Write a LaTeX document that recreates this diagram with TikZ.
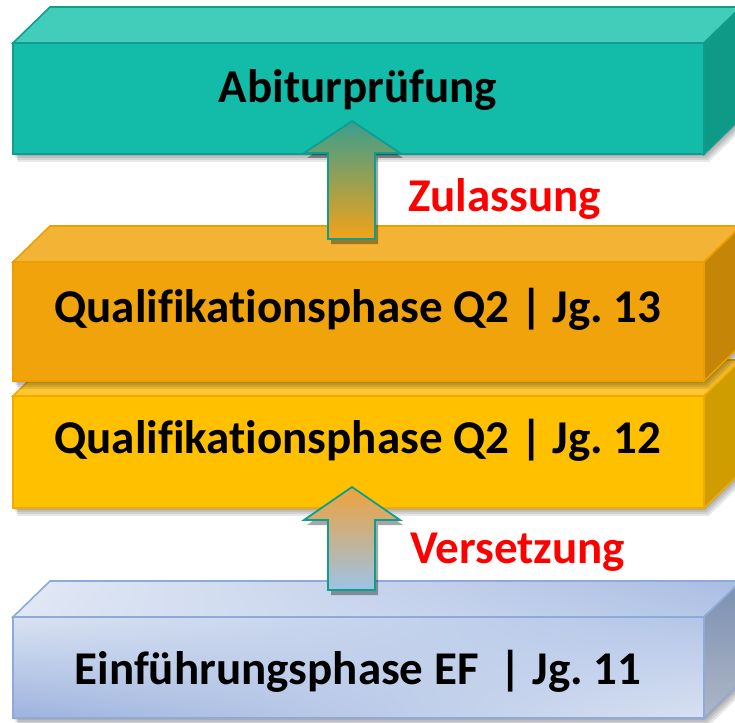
\documentclass[tikz,border=0pt]{standalone}
\usepackage{fontspec}
\usetikzlibrary{shadings}
\setmainfont{Carlito}[Ligatures=NoCommon]
\frenchspacing
\definecolor{tealF}{HTML}{12BCA8}
\definecolor{tealT}{HTML}{42CDBA}
\definecolor{tealS}{HTML}{0F9A88}
\definecolor{tealL}{HTML}{0F9E8E}
\definecolor{oraF}{HTML}{F1A30B}
\definecolor{oraT}{HTML}{F3B436}
\definecolor{oraS}{HTML}{C58608}
\definecolor{oraL}{HTML}{EE9F00}
\definecolor{yelF}{HTML}{FFC000}
\definecolor{yelT}{HTML}{FFC832}
\definecolor{yelS}{HTML}{CF9D00}
\definecolor{yelL}{HTML}{F2A900}
\definecolor{bluL}{HTML}{8EAADB}
\definecolor{bluUL}{HTML}{D9E2F2}
\definecolor{bluLL}{HTML}{9DB3DE}
\definecolor{bluUR}{HTML}{B3C5E7}
\definecolor{bluLR}{HTML}{D8E1F2}
\definecolor{bluTL}{HTML}{E2E9F5}
\definecolor{bluTR}{HTML}{A9BCE3}
\definecolor{bluTLL}{HTML}{DFE6F4}
\definecolor{bluTLR}{HTML}{B4C6E7}
\definecolor{bluS1}{HTML}{7B90B3}
\definecolor{bluS2}{HTML}{AEB6C5}
\definecolor{arrT1}{HTML}{3A9E8E}
\definecolor{arrM1}{HTML}{B8A468}
\definecolor{arrB1}{HTML}{F3A218}
\definecolor{arrT2}{HTML}{EEA23C}
\definecolor{arrM2}{HTML}{C9B5B2}
\definecolor{arrB2}{HTML}{9CC3E6}
\definecolor{redtxt}{HTML}{FF0000}
\tikzset{
  boxline/.style={line width=1.6pt, line join=miter},
  boxtext/.style={font=\fontsize{47}{52}\selectfont\bfseries, text=black, inner sep=0pt, anchor=base},
  redlabel/.style={font=\fontsize{47}{52}\selectfont\bfseries, text=redtxt, inner sep=0pt, anchor=base west},
  arrowline/.style={draw=tealL, line width=1.8pt, line join=miter},
}
% silhouette of a cuboid: x1 y1 x2 y2
\newcommand\cubsil[4]{(#1,#2) -- (#1+37,#2-36) -- (#3+37,#2-36) -- (#3+37,#4-36) -- (#3,#4) -- (#1,#4) -- cycle}
\newcommand\cubshadow[4]{%
  \foreach \o in {2,4,6,8}{\fill[black,opacity=0.09,xshift=0.6*\o pt,yshift=-\o pt] \cubsil{#1}{#2}{#3}{#4};}%
}
% x1 y1 x2 y2 front top side line
\newcommand\cuboid[8]{%
  \cubshadow{#1}{#2}{#3}{#4}%
  \filldraw[fill=#5,draw=#8,boxline] (#1,#2) rectangle (#3,#4);
  \filldraw[fill=#6,draw=#8,boxline] (#1,#2) -- (#1+37,#2-36) -- (#3+37,#2-36) -- (#3,#2) -- cycle;
  \filldraw[fill=#7,draw=#8,boxline] (#3,#2) -- (#3+37,#2-36) -- (#3+37,#4-36) -- (#3,#4) -- cycle;
}
% up arrow: tip y, head base y, bottom y
\newcommand\uparr[3]{(352,#1) -- (400,#2) -- (375,#2) -- (375,#3) -- (328,#3) -- (328,#2) -- (304,#2) -- cycle}
\begin{document}
\begin{tikzpicture}[x=1pt,y=-1pt]
\useasboundingbox (0,0) rectangle (735,722);
\clip (0,0) rectangle (735,722);
\fill[white] (0,0) rectangle (735,722);

% ---- EF box (bottom) ----
\cubshadow{13}{617}{704}{718}
\shade[upper left=bluUL, upper right=bluUR, lower left=bluLL, lower right=bluLR] (13,617) rectangle (704,718);
\draw[draw=bluL,boxline] (13,617) rectangle (704,718);
\shade[upper left=bluTL, upper right=bluTR, lower left=bluTLL, lower right=bluTLR] (13,617) -- (50,581) -- (741,581) -- (704,617) -- cycle;
\draw[draw=bluL,boxline] (13,617) -- (50,581) -- (741,581) -- (704,617) -- cycle;
\shade[top color=bluS1, bottom color=bluS2] (704,617) -- (741,581) -- (741,682) -- (704,718) -- cycle;
\draw[draw=bluL,boxline] (704,617) -- (741,581) -- (741,682) -- (704,718) -- cycle;

% ---- Q2 Jg. 12 box ----
\cuboid{13}{396}{704}{508}{yelF}{yelT}{yelS}{yelL}

% ---- Q2 Jg. 13 box ----
\cuboid{13}{262}{704}{381}{oraF}{oraT}{oraS}{oraL}

% ---- Abitur box ----
\cuboid{13}{43}{704}{154}{tealF}{tealT}{tealS}{tealL}

% ---- texts ----
\node[boxtext] (abi) at (358,103) {Abiturprüfung};
\node[boxtext] (q13) at (358,322) {Qualifikationsphase Q2 | Jg. 13};
\node[boxtext] (q12) at (358,453) {Qualifikationsphase Q2 | Jg. 12};
\node[boxtext] (ef)  at (358,684) {Einführungsphase EF \ | Jg. 11};

% ---- arrows ----
\fill[black,opacity=0.35,xshift=3pt,yshift=-5pt] \uparr{121}{153}{239};
\shade[top color=arrT1, middle color=arrM1, bottom color=arrB1] \uparr{121}{153}{239};
\draw[arrowline] \uparr{121}{153}{239};

\fill[black,opacity=0.35,xshift=3pt,yshift=-5pt] \uparr{487}{520}{590};
\shade[top color=arrT2, middle color=arrM2, bottom color=arrB2] \uparr{487}{520}{590};
\draw[arrowline] \uparr{487}{520}{590};

\node[redlabel] (zul) at (408,211) {Zulassung};
\node[redlabel] (ver) at (410,563) {Versetzung};
\end{tikzpicture}
\end{document}
